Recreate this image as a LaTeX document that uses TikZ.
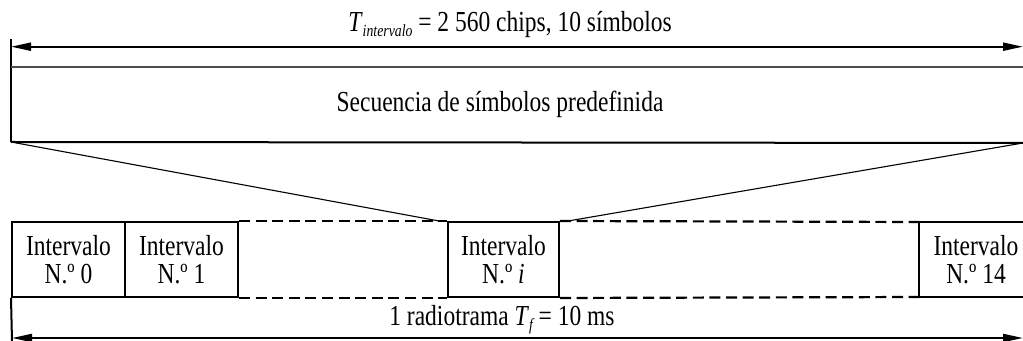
\documentclass[tikz,border=0pt]{standalone}
\usepackage{fontspec}
\setmainfont{Liberation Serif}[FakeStretch=0.81]
\usetikzlibrary{arrows.meta}
\newcommand\lowsub[1]{\raisebox{-2.5pt}{\fontsize{8.5}{9}\selectfont\itshape #1}}
\begin{document}
\begin{tikzpicture}[x=0.5pt,y=0.5pt,
  txt/.style={font=\fontsize{14.5}{14.3}\selectfont, inner sep=0pt},
  bold/.style={line width=1pt},
  thin/.style={line width=0.55pt},
  dim/.style={line width=1pt, {Triangle[length=10pt,width=4pt]}-{Triangle[length=10pt,width=4pt]}},
  dashline/.style={line width=1.1pt, dash pattern=on 5.5pt off 2.8pt},
  slot/.style={draw, line width=1pt, minimum height=37.5pt, inner sep=0pt, align=center,
    font=\fontsize{14.5}{14.3}\selectfont}]
\useasboundingbox (0,0) rectangle (1023,-341);

% top dimension and predefined sequence box
\coordinate (TL) at (11,-39);
\coordinate (AL) at (11,-46.7);
\coordinate (AR) at (1023,-46.7);
\coordinate (SL) at (11,-67);
\coordinate (SR) at (1023,-67);
\coordinate (BL) at (11,-142);
\coordinate (BR) at (1023,-143);

\node[txt, anchor=base] (tint) at (510,-32) {\textit{T}\lowsub{intervalo} = 2 560 chips, 10 símbolos};
\node[txt] (seq) at (500,-104.5) {Secuencia de símbolos predefinida};

\draw[line width=0.8pt] (TL) -- (BL);
\draw[dim] (AL) -- (AR);
\draw[line width=0.7pt, black!70] (SL) -- (SR);
\draw[bold] (BL) -- (BR);

% slots
\node[slot, minimum width=56.5pt] (s0) at (68.5,-259.5) {Intervalo\\N.º 0};
\node[slot, minimum width=56.5pt] (s1) at (181.5,-259.5) {Intervalo\\N.º 1};
\node[slot, minimum width=55.5pt] (si) at (503.5,-259.5) {Intervalo\\N.º \textit{i}};
\node[txt, align=center] (s14) at (976,-259.5) {Intervalo\\N.º 14};
\coordinate (s14tl) at (919,-222);
\coordinate (s14bl) at (919,-297);
\coordinate (s14tr) at (1023,-222);
\coordinate (s14br) at (1023,-297);
\draw[bold] (s14tr) -- (s14tl) -- (s14bl) -- (s14br);

\draw[dashline] (s1.north east) -- (si.north west);
\draw[dashline] (s1.south east) -- (si.south west);
\draw[dashline] (si.north east) -- (s14tl);
\draw[dashline] (si.south east) -- (s14bl);

% expansion lines
\draw[thin] (BL) -- ([xshift=-4pt]si.north west);
\draw[thin] (BR) -- ([xshift=4pt]si.north east);

% bottom dimension
\coordinate (FL) at (12,-338);
\coordinate (FR) at (1023,-338);
\coordinate (FB) at (12,-341);
\draw[bold] (s0.south west) -- (FB);
\draw[dim] (FL) -- (FR);
\node[txt, anchor=base] (frame) at (502,-326) {1 radiotrama \textit{T}\lowsub{f} = 10 ms};
\end{tikzpicture}
\end{document}
